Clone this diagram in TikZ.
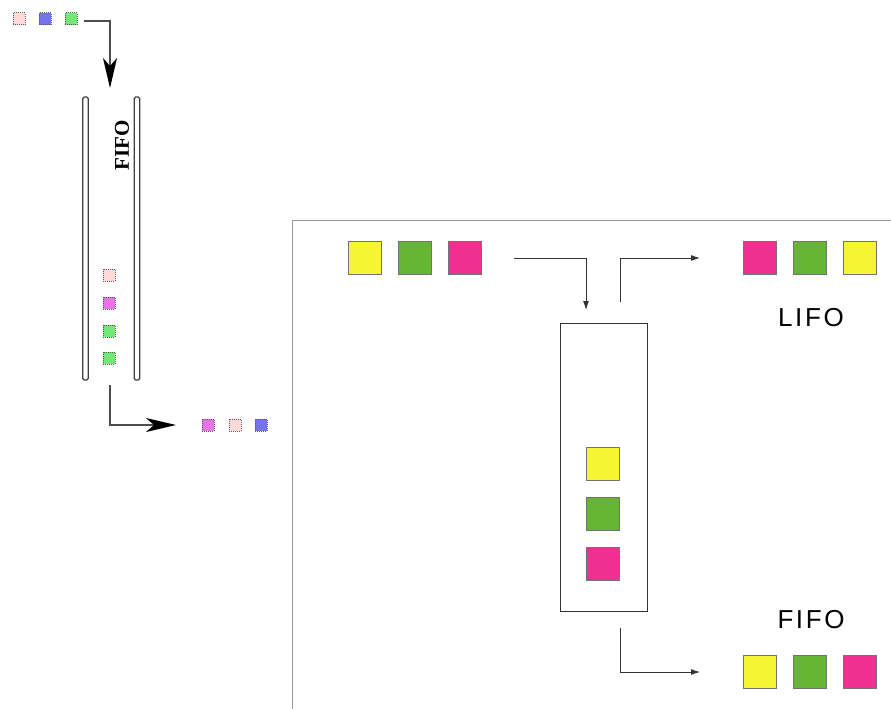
\documentclass[tikz,border=0pt]{standalone}
\usepackage{fontspec}
\newfontfamily\labfont[LetterSpace=10]{Liberation Sans}
\newfontfamily\serfont{Liberation Serif}
\usetikzlibrary{arrows.meta}
\definecolor{spink}{HTML}{FFD8D8}
\definecolor{sblue}{HTML}{7474EC}
\definecolor{sgreen}{HTML}{74E874}
\definecolor{smag}{HTML}{E874E8}
\definecolor{byel}{HTML}{F5F532}
\definecolor{bgreen}{HTML}{66B533}
\definecolor{bmag}{HTML}{EE3090}
\definecolor{lgray}{HTML}{333333}
\begin{document}
\begin{tikzpicture}[x=1pt,y=-1pt,
  small/.style={draw=black!65,densely dotted,line width=1pt,minimum size=12pt,inner sep=0pt},
  big/.style={draw=black!55,line width=0.9pt,minimum size=33pt,inner sep=0pt},
  bar/.style={draw=black!75,fill=white,line width=1.1pt,rounded corners=1.5pt,minimum width=5.5pt,minimum height=283pt,inner sep=0pt},
  bigarrow/.style={draw=black!70,line width=1.6pt,-{Stealth[length=30pt,width=14pt,inset=8pt,color=black]}},
  thinarrow/.style={draw=lgray,line width=0.9pt,-{Latex[length=9pt,width=6pt]}},
  lab/.style={font=\labfont\fontsize{26}{30}\selectfont,inner sep=0pt}
]
\useasboundingbox (0,0) rectangle (891,709);
% ---- left part ----
\node[small,fill=spink] (a1) at (19,19) {};
\node[small,fill=sblue] (a2) at (45,19) {};
\node[small,fill=sgreen] (a3) at (71,19) {};
\node[bar] (barL) at (85.5,238.5) {};
\node[bar] (barR) at (137,238.5) {};
\node[rotate=90,font=\serfont\bfseries\fontsize{21}{24}\selectfont,inner sep=0pt] (fifoL) at (122,145) {FIFO};
\node[small,fill=spink] (t1) at (109,275) {};
\node[small,fill=smag] (t2) at (109,303) {};
\node[small,fill=sgreen] (t3) at (109,331) {};
\node[small,fill=sgreen] (t4) at (109,358) {};
\node[small,fill=smag] (o1) at (208,425) {};
\node[small,fill=spink] (o2) at (235,425) {};
\node[small,fill=sblue] (o3) at (261,425) {};
\coordinate (inS) at (84,21);
\coordinate (inE) at (110,88);
\coordinate (outS) at (110,385);
\coordinate (outE) at (176,425);
\draw[bigarrow] (inS) -| (inE);
\draw[bigarrow] (outS) |- (outE);
% ---- right part ----
\coordinate (fTR) at (891,220);
\coordinate (fTL) at (292,220);
\coordinate (fBL) at (292,709);
\draw[black!40,line width=1pt] (fTR) -- (fTL) -- (fBL);
\node[big,fill=byel] (i1) at (365,258) {};
\node[big,fill=bgreen] (i2) at (415,258) {};
\node[big,fill=bmag] (i3) at (465,258) {};
\node[draw=lgray,line width=1pt,minimum width=87pt,minimum height=288pt,inner sep=0pt] (box) at (603.5,467) {};
\node[big,fill=byel] (s1) at (603,464) {};
\node[big,fill=bgreen] (s2) at (603,514) {};
\node[big,fill=bmag] (s3) at (603,564) {};
\node[big,fill=bmag] (l1) at (760,258) {};
\node[big,fill=bgreen] (l2) at (810,258) {};
\node[big,fill=byel] (l3) at (860,258) {};
\node[lab] (lifo) at (811,318) {LIFO};
\node[lab] (fifo) at (811,620) {FIFO};
\node[big,fill=byel] (f1) at (760,672) {};
\node[big,fill=bgreen] (f2) at (810,672) {};
\node[big,fill=bmag] (f3) at (860,672) {};
\coordinate (p1) at (514,258);
\coordinate (p2) at (586,310);
\coordinate (q1) at (620,302);
\coordinate (q2) at (700,258);
\coordinate (r1) at (620,628);
\coordinate (r2) at (700,672);
\draw[thinarrow] (p1) -| (p2);
\draw[thinarrow] (q1) |- (q2);
\draw[thinarrow] (r1) |- (r2);
\end{tikzpicture}
\end{document}
